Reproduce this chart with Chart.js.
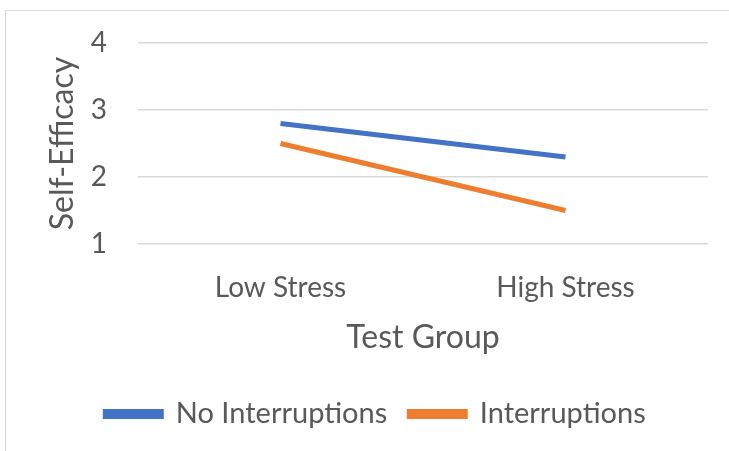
<!DOCTYPE html>
<html>
<head>
<meta charset="utf-8">
<script src="https://cdn.jsdelivr.net/npm/chart.js@4"></script>
<style>
  html, body { margin: 0; padding: 0; background: #fff; }
  #wrap { position: relative; width: 729px; height: 451px; overflow: hidden; }
  #frame { position: absolute; left: 5px; top: 10px; width: 740px; height: 460px; border: 1px solid #d9d9d9; box-sizing: border-box; }
  #chart { position: absolute; left: 0; top: 0; }
</style>
</head>
<body>
<div id="wrap">
  <div id="frame"></div>
  <canvas id="chart" width="729" height="451"></canvas>
</div>
<script>
// Chart data
const categories = ["Low Stress", "High Stress"];
const noInterruptions = [2.8, 2.3];
const interruptions = [2.5, 1.5];
const yTicks = [1, 2, 3, 4];

const textColor = "#595959";
const fontFamily = "Lato, 'Open Sans', sans-serif";

const ctx = document.getElementById("chart").getContext("2d");
new Chart(ctx, {
    type: "line",
    data: {
        labels: categories,
        datasets: [
            {
                label: "No Interruptions",
                data: noInterruptions,
                borderColor: "#4472C4",
                backgroundColor: "#4472C4",
                borderWidth: 5,
                pointRadius: 0,
                fill: false,
            },
            {
                label: "Interruptions",
                data: interruptions,
                borderColor: "#ED7D31",
                backgroundColor: "#ED7D31",
                borderWidth: 5,
                pointRadius: 0,
                fill: false,
            },
        ],
    },
    options: {
        responsive: false,
        animation: false,
        layout: {
            padding: { top: 43, right: 21, left: 43, bottom: 12.5 },
        },
        scales: {
            x: {
                offset: true,
                grid: { display: false, drawTicks: false },
                border: { display: false },
                ticks: {
                    color: textColor,
                    font: { family: fontFamily, size: 28 },
                    padding: 27,
                },
                title: {
                    display: true,
                    text: "Test Group",
                    color: textColor,
                    font: { family: fontFamily, size: 32 },
                    padding: { top: 0, bottom: 21 },
                },
                afterFit: (scale) => {
                    scale.height = 133.5;
                    scale.paddingLeft = 0;
                    scale.paddingRight = 0;
                },
            },
            y: {
                min: 1,
                max: 4,
                afterBuildTicks: (axis) => {
                    axis.ticks = yTicks.map((v) => ({ value: v }));
                },
                grid: {
                    color: "#d9d9d9",
                    lineWidth: 1.5,
                    drawTicks: false,
                },
                border: { display: false },
                ticks: {
                    color: textColor,
                    font: { family: fontFamily, size: 28 },
                    padding: 31,
                },
                title: {
                    display: true,
                    text: "Self-Efficacy",
                    color: textColor,
                    font: { family: fontFamily, size: 32 },
                    padding: { top: 0, bottom: 0 },
                },
                afterFit: (scale) => {
                    scale.width = 95;
                    scale.paddingTop = 0;
                    scale.paddingBottom = 0;
                },
            },
        },
        plugins: {
            legend: {
                display: true,
                position: "bottom",
                labels: {
                    color: textColor,
                    font: { family: fontFamily, size: 29 },
                    boxWidth: 56,
                    boxHeight: 5,
                    padding: 22,
                },
            },
            tooltip: { enabled: false },
        },
    },
});
</script>
</body>
</html>
